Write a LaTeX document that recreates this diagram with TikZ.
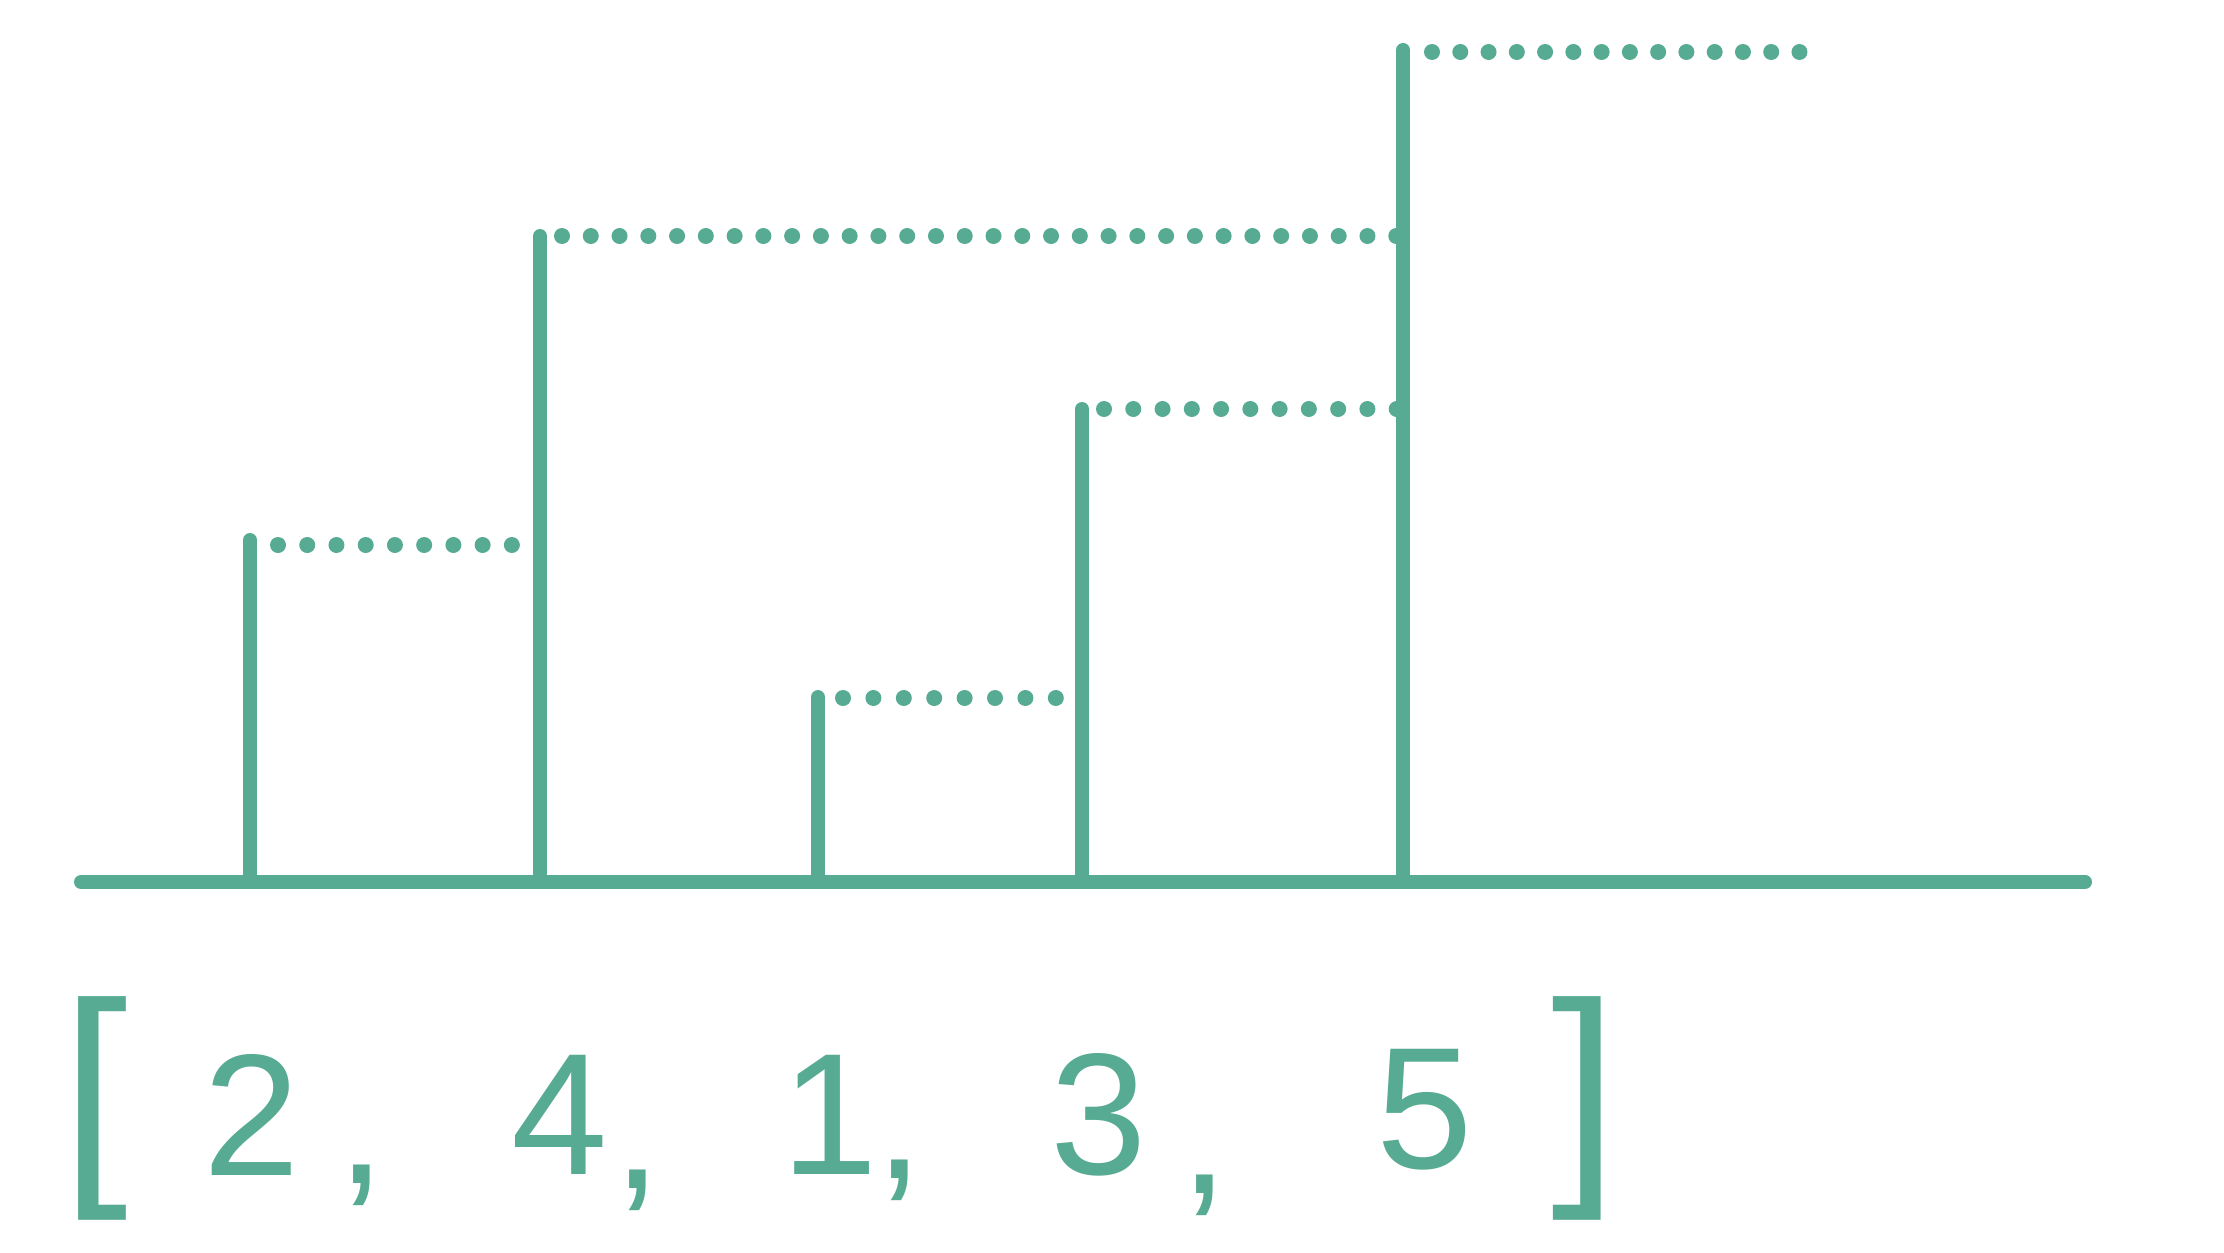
\documentclass[tikz,border=0pt]{standalone}
\usepackage{fontspec}
\setmainfont{Liberation Sans}
\definecolor{teal}{RGB}{86,171,146}
\begin{document}
\begin{tikzpicture}[x=0.3pt,y=-0.3pt,
  solidline/.style={draw=teal,line width=4.2pt,line cap=round},
  dotline/.style={draw=teal,line width=4.8pt,line cap=round,dash pattern=on 0pt off #1},
  digit/.style={text=teal,font=\fontsize{52}{52}\selectfont,inner sep=0pt},
  brack/.style={text=teal,font=\fontsize{72}{72}\selectfont,inner sep=0pt}]
\useasboundingbox (0,0) rectangle (2224,1252);
% base line
\coordinate (L) at (81,882);
\coordinate (R) at (2085,882);
\draw[solidline] (L) -- (R);
% bars
\coordinate (b1) at (250,882); \coordinate (t1) at (250,540);
\coordinate (b2) at (540,882); \coordinate (t2) at (540,236);
\coordinate (b3) at (818,882); \coordinate (t3) at (818,697);
\coordinate (b4) at (1082,882); \coordinate (t4) at (1082,409);
\coordinate (b5) at (1403,882); \coordinate (t5) at (1403,50);
\foreach \i in {1,...,5} \draw[solidline] (b\i) -- (t\i);
% dotted levels
\coordinate (d1s) at (278,545); \coordinate (d1e) at (512.5,545);
\coordinate (d2s) at (562,236); \coordinate (d2e) at (1397.5,236);
\coordinate (d3s) at (843,698); \coordinate (d3e) at (1056.5,698);
\coordinate (d4s) at (1104,409); \coordinate (d4e) at (1397.5,409);
\coordinate (d5s) at (1432,52); \coordinate (d5e) at (1800.5,52);
\draw[dotline=8.77pt] (d1s) -- (d1e);
\draw[dotline=8.63pt] (d2s) -- (d2e);
\draw[dotline=9.12pt] (d3s) -- (d3e);
\draw[dotline=8.78pt] (d4s) -- (d4e);
\draw[dotline=8.48pt] (d5s) -- (d5e);
% array text
\node[brack] (lb) at (95,1108) {[};
\node[digit] (n1) at (252,1115) {2};
\node[digit] (c1) at (362,1185) {,};
\node[digit] (n2) at (560,1115) {4};
\node[digit] (c2) at (638,1190) {,};
\node[digit] (n3) at (830,1115) {1};
\node[digit] (c3) at (900,1180) {,};
\node[digit] (n4) at (1099,1115) {3};
\node[digit] (c4) at (1205,1195) {,};
\node[digit] (n5) at (1425,1110) {5};
\node[brack] (rb) at (1585,1108) {]};
\end{tikzpicture}
\end{document}
